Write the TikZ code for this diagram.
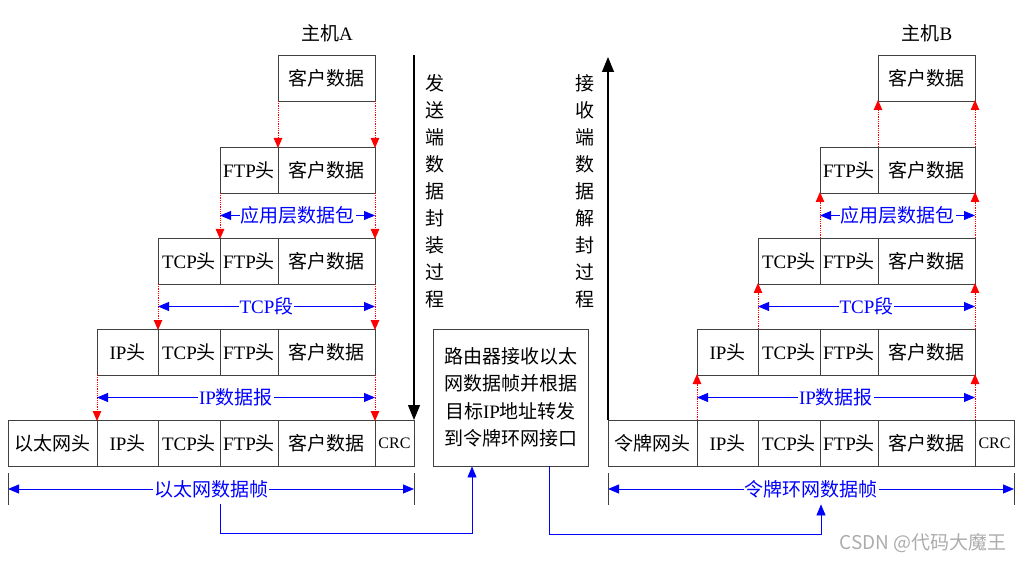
\documentclass[tikz,border=0pt]{standalone}
\usepackage{fontspec}
\setmainfont{Noto Sans CJK SC}
\newfontfamily\enfont{Liberation Serif}
\newcommand{\en}[1]{{\enfont #1}}
\usepackage{tikz}
\usetikzlibrary{arrows.meta,positioning,calc}

\begin{document}
\begin{tikzpicture}[x=1pt, y=-1pt,
  cell/.style={draw=black!75, line width=0.9pt, anchor=north west,
               minimum height=46pt, inner sep=0pt, outer sep=0pt,
               font=\fontsize{19}{23}\selectfont},
  ethc/.style={cell, minimum width=89pt},
  ipc/.style={cell, minimum width=61pt},
  tcpc/.style={cell, minimum width=62pt},
  ftpc/.style={cell, minimum width=58pt},
  datc/.style={cell, minimum width=97pt},
  crcc/.style={cell, minimum width=39pt, font=\fontsize{16}{20}\selectfont},
  down/.style={red, densely dotted, line width=0.8pt,
               -{Triangle[length=10pt,width=8.5pt,sep=-1pt]}},
  dim/.style={blue, line width=0.8pt,
              {Triangle[length=11pt,width=9pt]}-{Triangle[length=11pt,width=9pt]}},
  lbl/.style={midway, fill=white, text=blue, inner xsep=1pt, inner ysep=0pt,
              minimum height=30pt, font=\fontsize{19}{23}\selectfont},
  flow/.style={blue, line width=0.8pt, -{Triangle[length=11pt,width=9pt]}},
  big/.style={black, line width=1.2pt, -{Triangle[length=15pt,width=12pt]}},
  tick/.style={black!75, line width=0.9pt},
  vtxt/.style={align=center, font=\fontsize{19}{27}\selectfont}
]
\useasboundingbox (0,0) rectangle (1025,561);

\node[font=\fontsize{19}{23}\selectfont] (hostA) at (327,33) {主机\en{A}};
\node[font=\fontsize{19}{23}\selectfont] (hostB) at (927,33) {主机\en{B}};

\node[datc] (a1d) at (278,55)  {客户数据};
\node[ftpc] (a2f) at (220,147) {\en{FTP}头};
\node[datc] (a2d) at (278,147) {客户数据};
\node[tcpc] (a3t) at (158,238) {\en{TCP}头};
\node[ftpc] (a3f) at (220,238) {\en{FTP}头};
\node[datc] (a3d) at (278,238) {客户数据};
\node[ipc]  (a4i) at (97,329)  {\en{IP}头};
\node[tcpc] (a4t) at (158,329) {\en{TCP}头};
\node[ftpc] (a4f) at (220,329) {\en{FTP}头};
\node[datc] (a4d) at (278,329) {客户数据};
\node[ethc] (a5e) at (8,420)   {以太网头};
\node[ipc]  (a5i) at (97,420)  {\en{IP}头};
\node[tcpc] (a5t) at (158,420) {\en{TCP}头};
\node[ftpc] (a5f) at (220,420) {\en{FTP}头};
\node[datc] (a5d) at (278,420) {客户数据};
\node[crcc] (a5c) at (375,420) {\en{CRC}};

\node[datc] (b1d) at (878,55)  {客户数据};
\node[ftpc] (b2f) at (820,147) {\en{FTP}头};
\node[datc] (b2d) at (878,147) {客户数据};
\node[tcpc] (b3t) at (758,238) {\en{TCP}头};
\node[ftpc] (b3f) at (820,238) {\en{FTP}头};
\node[datc] (b3d) at (878,238) {客户数据};
\node[ipc]  (b4i) at (697,329) {\en{IP}头};
\node[tcpc] (b4t) at (758,329) {\en{TCP}头};
\node[ftpc] (b4f) at (820,329) {\en{FTP}头};
\node[datc] (b4d) at (878,329) {客户数据};
\node[ethc] (b5e) at (608,420) {令牌网头};
\node[ipc]  (b5i) at (697,420) {\en{IP}头};
\node[tcpc] (b5t) at (758,420) {\en{TCP}头};
\node[ftpc] (b5f) at (820,420) {\en{FTP}头};
\node[datc] (b5d) at (878,420) {客户数据};
\node[crcc] (b5c) at (975,420) {\en{CRC}};

\node[draw=black!75, line width=0.9pt, minimum width=155pt, minimum height=137pt,
      align=center, font=\fontsize{19}{27.5}\selectfont] (rt) at (510.5,397.5)
      {路由器接收以太\\网数据帧并根据\\目标\en{IP}地址转发\\到令牌环网接口};

\node[vtxt] (sendtxt) at (435,191.5) {发\\送\\端\\数\\据\\封\\装\\过\\程};
\node[vtxt] (recvtxt) at (585,191.5) {接\\收\\端\\数\\据\\解\\封\\过\\程};

\draw[down] (a1d.south west) -- (a2d.north west);
\draw[down] (a1d.south east) -- (a2d.north east);
\draw[down] (a2f.south west) -- (a3f.north west);
\draw[down] (a2d.south east) -- (a3d.north east);
\draw[down] (a3t.south west) -- (a4t.north west);
\draw[down] (a3d.south east) -- (a4d.north east);
\draw[down] (a4i.south west) -- (a5i.north west);
\draw[down] (a4d.south east) -- (a5d.north east);

\draw[down] (b5i.north west) -- (b4i.south west);
\draw[down] (b5d.north east) -- (b4d.south east);
\draw[down] (b4t.north west) -- (b3t.south west);
\draw[down] (b4d.north east) -- (b3d.south east);
\draw[down] (b3f.north west) -- (b2f.south west);
\draw[down] (b3d.north east) -- (b2d.south east);
\draw[down] (b2d.north west) -- (b1d.south west);
\draw[down] (b2d.north east) -- (b1d.south east);

\draw[dim] ($(a2f.south west)!.5!(a3f.north west)$) -- ($(a2d.south east)!.5!(a3d.north east)$)
  node[lbl]{应用层数据包};
\draw[dim] ($(a3t.south west)!.5!(a4t.north west)$) -- ($(a3d.south east)!.5!(a4d.north east)$)
  node[lbl]{\en{TCP}段};
\draw[dim] ($(a4i.south west)!.5!(a5i.north west)$) -- ($(a4d.south east)!.5!(a5d.north east)$)
  node[lbl]{\en{IP}数据报};
\draw[dim] ($(a5e.south west)+(0,23)$) -- ($(a5c.south east)+(0,23)$)
  node[lbl] (ethlbl){以太网数据帧};

\draw[dim] ($(b2f.south west)!.5!(b3f.north west)$) -- ($(b2d.south east)!.5!(b3d.north east)$)
  node[lbl]{应用层数据包};
\draw[dim] ($(b3t.south west)!.5!(b4t.north west)$) -- ($(b3d.south east)!.5!(b4d.north east)$)
  node[lbl]{\en{TCP}段};
\draw[dim] ($(b4i.south west)!.5!(b5i.north west)$) -- ($(b4d.south east)!.5!(b5d.north east)$)
  node[lbl]{\en{IP}数据报};
\draw[dim] ($(b5e.south west)+(0,23)$) -- ($(b5c.south east)+(0,23)$)
  node[lbl] (tklbl){令牌环网数据帧};

\draw[tick] ($(a5e.south west)+(0,7)$) -- +(0,32);
\draw[tick] ($(a5c.south east)+(0,7)$) -- +(0,32);
\draw[tick] ($(b5e.south west)+(0,7)$) -- +(0,32);
\draw[tick] ($(b5c.south east)+(0,7)$) -- +(0,32);

\coordinate (sendtop) at (414,55);
\coordinate (recvtop) at (608,57);
\draw[big] (sendtop) -- (a5c.north east);
\draw[big] (b5e.north west) -- (recvtop);

\draw[flow] ([xshift=9pt]ethlbl.south) -- ++(0,29) -| ([xshift=-38.5pt]rt.south);
\draw[flow] ([xshift=38.5pt]rt.south) -- ++(0,68) -| ([xshift=10pt]tklbl.south);

\node[text=gray!65, font=\fontsize{19}{21}\selectfont] (mark) at (923,543) {CSDN @代码大魔王};
\end{tikzpicture}
\end{document}
